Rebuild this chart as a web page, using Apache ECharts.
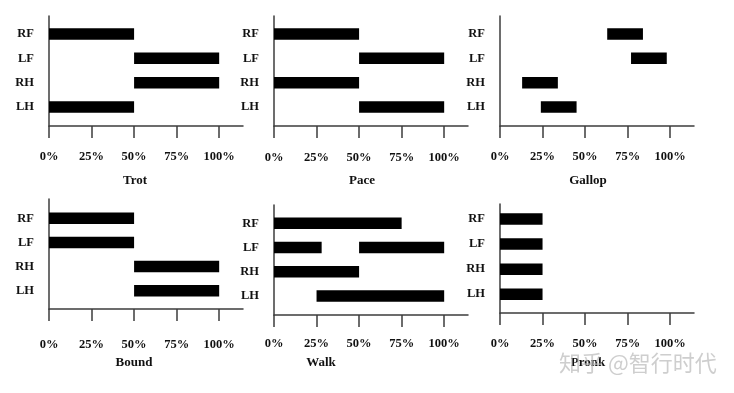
<!DOCTYPE html>
<html>
<head>
<meta charset="utf-8">
<script src="https://cdn.jsdelivr.net/npm/echarts@6/dist/echarts.min.js"></script>
<style>html,body{margin:0;padding:0;background:#fff;}#c{width:734px;height:393px;}</style>
</head>
<body>
<div id="c"></div>
<script>
// ---- data ----
const limbs = ['RF', 'LF', 'RH', 'LH'];
const tickValues = [0, 25, 50, 75, 100];
const tickLabels = ['0%', '25%', '50%', '75%', '100%'];
const gaitNames = ['Trot', 'Pace', 'Gallop', 'Bound', 'Walk', 'Pronk'];
// stance segments per limb [start%, end%], order RF, LF, RH, LH
const trot   = [[[0, 50]], [[50, 100]], [[50, 100]], [[0, 50]]];
const pace   = [[[0, 50]], [[50, 100]], [[0, 50]], [[50, 100]]];
const gallop = [[[63, 84]], [[77, 98]], [[13, 34]], [[24, 45]]];
const bound  = [[[0, 50]], [[0, 50]], [[50, 100]], [[50, 100]]];
const walk   = [[[0, 75]], [[0, 28], [50, 100]], [[0, 50]], [[25, 100]]];
const pronk  = [[[0, 25]], [[0, 25]], [[0, 25]], [[0, 25]]];
const gaitData = [trot, pace, gallop, bound, walk, pronk];
const watermark = '知乎 @智行时代';

// ---- layout ----
const panels = [
  {left: 49,  top: 16,  height: 110, ymin: -0.74, ymax: 3.78, margin: 24, tx: 135, ty: 181},
  {left: 274, top: 16,  height: 110, ymin: -0.74, ymax: 3.78, margin: 25, tx: 362, ty: 181},
  {left: 500, top: 16,  height: 110, ymin: -0.74, ymax: 3.78, margin: 24, tx: 588, ty: 181},
  {left: 49,  top: 199, height: 110, ymin: -0.80, ymax: 3.76, margin: 29, tx: 134, ty: 363},
  {left: 274, top: 205, height: 110, ymin: -0.76, ymax: 3.79, margin: 22, tx: 321, ty: 363},
  {left: 500, top: 204, height: 109, ymin: -0.60, ymax: 3.75, margin: 24, tx: 588, ty: 363}
];
const W = 194;
const lineColor = '#3c3c3c';
const serif = '"Liberation Serif", "Times New Roman", serif';

const grid = [], xAxis = [], yAxis = [], series = [], graphic = [];
panels.forEach((p, i) => {
  grid.push({left: p.left, top: p.top, width: W, height: p.height, containLabel: false});
  xAxis.push({
    type: 'value', gridIndex: i, min: 0, max: 114,
    splitLine: {show: false},
    axisLine: {show: true, onZero: false, lineStyle: {color: lineColor, width: 1.5}},
    axisTick: {show: true, customValues: tickValues, length: 12, lineStyle: {color: lineColor, width: 1.5}},
    axisLabel: {
      customValues: tickValues, margin: p.margin,
      formatter: v => tickLabels[tickValues.indexOf(v)],
      fontFamily: serif, fontWeight: 'bold', fontSize: 12.5, color: '#111'
    }
  });
  yAxis.push({
    type: 'value', gridIndex: i, inverse: true, min: p.ymin, max: p.ymax,
    splitLine: {show: false},
    axisLine: {show: true, onZero: false, lineStyle: {color: lineColor, width: 1.5}},
    axisTick: {show: false},
    axisLabel: {
      customValues: [0, 1, 2, 3], margin: 15,
      formatter: v => limbs[v],
      fontFamily: serif, fontWeight: 'bold', fontSize: 12.5, color: '#111'
    }
  });
  const rows = [];
  gaitData[i].forEach((segs, li) => segs.forEach(s => rows.push([li, s[0], s[1]])));
  series.push({
    type: 'custom', xAxisIndex: i, yAxisIndex: i, data: rows,
    encode: {x: [1, 2], y: 0},
    renderItem: (params, api) => {
      const a = api.coord([api.value(1), api.value(0)]);
      const b = api.coord([api.value(2), api.value(0)]);
      const h = 11.5;
      return {type: 'rect', shape: {x: a[0], y: a[1] - h / 2, width: b[0] - a[0], height: h}, style: {fill: '#000'}};
    }
  });
  graphic.push({
    type: 'text', x: p.tx, y: p.ty,
    style: {text: gaitNames[i], font: 'bold 13px ' + serif, fill: '#111', align: 'center', verticalAlign: 'middle'}
  });
});
graphic.push({
  type: 'text', x: 559, y: 363, z: 100,
  style: {text: watermark, font: '22px "Noto Sans CJK SC", sans-serif', fill: 'rgba(185,185,185,0.7)', align: 'left', verticalAlign: 'middle'}
});

const chart = echarts.init(document.getElementById('c'));
chart.setOption({animation: false, grid, xAxis, yAxis, series, graphic});
</script>
</body>
</html>
